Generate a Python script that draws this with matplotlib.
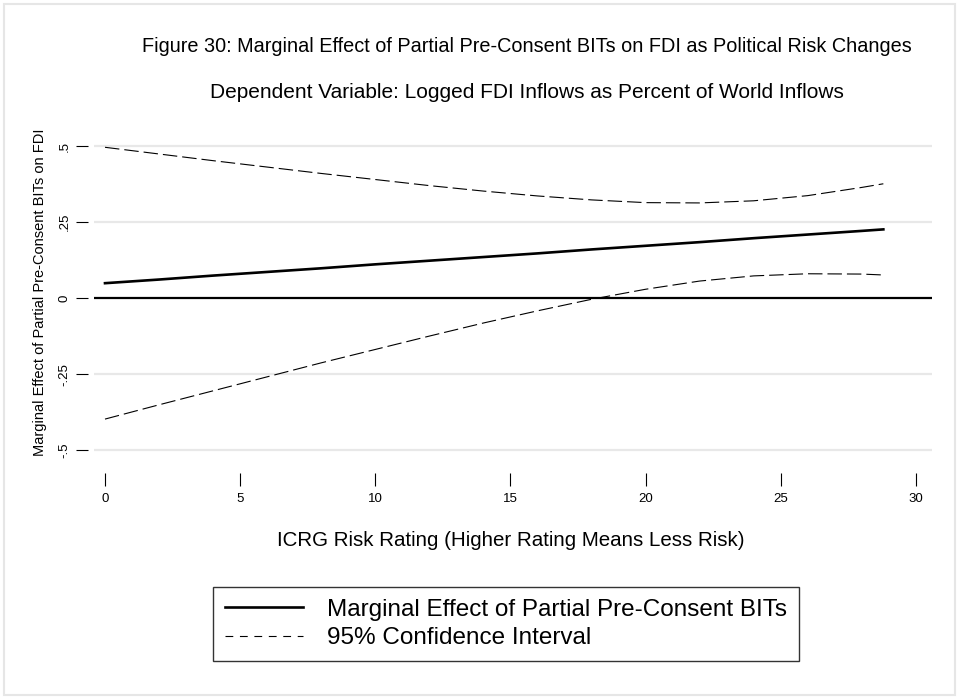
import matplotlib
matplotlib.use('Agg')
import matplotlib.pyplot as plt
from matplotlib.lines import Line2D
from matplotlib.patches import Rectangle

plt.rcParams['font.family'] = ['Liberation Sans', 'DejaVu Sans']

# ICRG risk rating and estimated marginal effect with 95% bounds
risk = [0, 2, 4, 6, 8, 10, 12, 14, 16, 18, 20, 22, 24, 26, 28, 28.8]
effect = [0.049, 0.061, 0.074, 0.086, 0.098, 0.111, 0.123, 0.135,
          0.147, 0.160, 0.172, 0.184, 0.197, 0.209, 0.221, 0.226]
upper = [0.496, 0.474, 0.452, 0.431, 0.410, 0.390, 0.370, 0.352,
         0.336, 0.323, 0.314, 0.313, 0.320, 0.337, 0.364, 0.376]
lower = [-0.398, -0.351, -0.305, -0.259, -0.213, -0.169, -0.125, -0.082,
         -0.042, -0.004, 0.029, 0.056, 0.073, 0.080, 0.079, 0.076]

xticks = [0, 5, 10, 15, 20, 25, 30]
yticks = [-0.5, -0.25, 0, 0.25, 0.5]
ytick_labels = ['-.5', '-.25', '0', '.25', '.5']

W, H = 959, 698
fig = plt.figure(figsize=(W / 100, H / 100), dpi=100)
fig.patch.set_facecolor('white')
fig.patches.append(Rectangle((4 / W, 3 / H), 951 / W, 691 / H, transform=fig.transFigure,
                             fill=False, edgecolor='#e6e6e6', linewidth=1.5))

ax = fig.add_axes([94 / W, 1 - 458 / H, (932 - 94) / W, (458 - 140) / H])
ax.set_xlim(-0.407, 30.6)
ax.set_ylim(-0.526, 0.520)
for s in ax.spines.values():
    s.set_visible(False)

for yv in yticks:
    if yv != 0:
        ax.axhline(yv, color='#e8e8e8', linewidth=1.6, zorder=0)
ax.axhline(0, color='black', linewidth=1.6, zorder=1)

dash = (0, (13, 4.5))
ax.plot(risk, upper, color='black', linewidth=0.8, linestyle=dash)
ax.plot(risk, lower, color='black', linewidth=0.8, linestyle=dash)
ax.plot(risk, effect, color='black', linewidth=1.9)

ax.set_xticks(xticks)
ax.set_xticklabels([str(v) for v in xticks])
ax.set_yticks(yticks)
ax.set_yticklabels(ytick_labels)
ax.spines['bottom'].set_position(('outward', 11))
ax.spines['left'].set_position(('outward', 4))
ax.tick_params(axis='x', length=9, width=0.8, pad=5, labelsize=9.5, colors='black')
ax.tick_params(axis='y', length=9, width=0.8, pad=4, labelsize=9.5, colors='black',
               labelrotation=90)
for lab in ax.get_yticklabels():
    lab.set_va('center')

fig.text(527 / W, 1 - 47 / H,
         'Figure 30: Marginal Effect of Partial Pre-Consent BITs on FDI as Political Risk Changes',
         ha='center', va='center', fontsize=14.3)
fig.text(527 / W, 1 - 92 / H,
         'Dependent Variable: Logged FDI Inflows as Percent of World Inflows',
         ha='center', va='center', fontsize=15)
fig.text(511 / W, 1 - 541 / H, 'ICRG Risk Rating (Higher Rating Means Less Risk)',
         ha='center', va='center', fontsize=14.8)
fig.text(40 / W, 1 - 292 / H, 'Marginal Effect of Partial Pre-Consent BITs on FDI',
         ha='center', va='center', rotation=90, fontsize=10.5)

handles = [Line2D([], [], color='black', linewidth=1.9),
           Line2D([], [], color='black', linewidth=0.8, linestyle=(0, (7, 6)))]
leg = fig.legend(handles, ['Marginal Effect of Partial Pre-Consent BITs', '95% Confidence Interval'],
                 loc='center', bbox_to_anchor=(506 / W, 1 - 624 / H), fontsize=17.5,
                 frameon=True, fancybox=False, edgecolor='black', handlelength=3.2,
                 handletextpad=1.0, borderpad=0.5, labelspacing=0.25, borderaxespad=0)
leg.get_frame().set_linewidth(1.0)

fig.savefig('out.png', dpi=100)
